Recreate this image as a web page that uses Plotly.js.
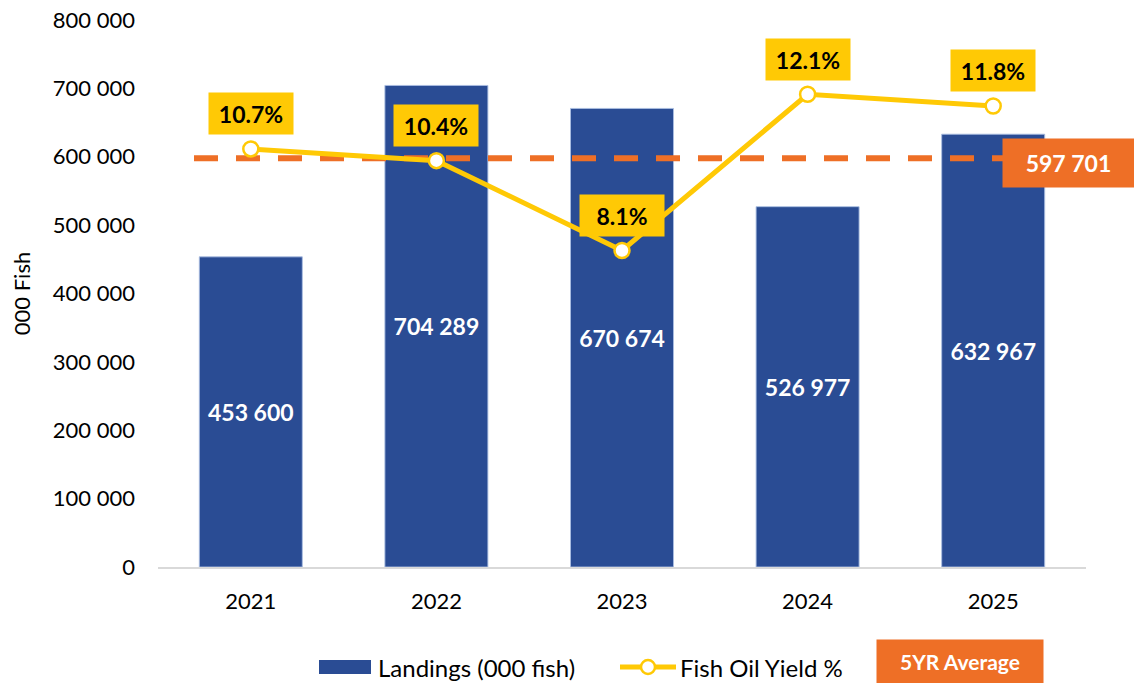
<!DOCTYPE html>
<html>
<head>
<meta charset="utf-8">
<script src="https://cdn.plot.ly/plotly-3.0.1.min.js"></script>
<style>html,body{margin:0;padding:0;background:#fff;}#chart{width:1134px;height:683px;}</style>
</head>
<body>
<div id="chart"></div>
<script>
// ---- data ----
const years = ['2021', '2022', '2023', '2024', '2025'];
const landings = [453600, 704289, 670674, 526977, 632967];
const oilYield = [10.7, 10.4, 8.1, 12.1, 11.8];
const fiveYrAvg = 597701;
const seriesNames = ['Landings (000 fish)', 'Fish Oil Yield %', '5YR Average'];

// ---- style ----
const W = 1134, H = 683;
const M = {l: 158, r: 48, t: 20, b: 116};
const PW = W - M.l - M.r, PH = H - M.t - M.b;
const px2x = p => (p - M.l) / PW;
const px2y = p => (H - M.b - p) / PH;
const BLUE = '#2A4C94', YEL = '#FFC905', ORG = '#EE6F26';
const FONT = "Lato, 'Open Sans', sans-serif";

const idx = years.map((_, i) => i);
const xr = [-0.5, years.length - 0.5];
const fracToX = f => xr[0] + f * (xr[1] - xr[0]);
const fmtSpace = v => String(Math.round(v)).replace(/\B(?=(\d{3})+(?!\d))/g, ' ');

const traces = [
  {
    type: 'bar', x: idx, y: landings, name: seriesNames[0],
    width: 0.555,
    marker: {color: BLUE, line: {color: 'rgba(170,190,225,0.9)', width: 1}},
    texttemplate: '%{y:,d}', textposition: 'inside', insidetextanchor: 'middle',
    textfont: {color: '#ffffff', size: 23, family: FONT, weight: 'bold'},
    hoverinfo: 'skip', showlegend: false
  },
  {
    type: 'scatter', mode: 'lines', name: seriesNames[2],
    x: [fracToX(px2x(194)), fracToX(px2x(1003))], y: [fiveYrAvg, fiveYrAvg],
    line: {color: ORG, width: 6, dash: '24px,18px'},
    hoverinfo: 'skip', showlegend: false
  },
  {
    type: 'scatter', mode: 'lines+markers', name: seriesNames[1],
    x: idx, y: oilYield, yaxis: 'y2',
    line: {color: YEL, width: 5},
    marker: {size: 15, color: '#ffffff', line: {color: YEL, width: 2.5}},
    hoverinfo: 'skip', showlegend: false
  }
];

const annotations = oilYield.map((v, i) => ({
  x: idx[i], y: v, xref: 'x', yref: 'y2', yshift: 35, xanchor: 'center', yanchor: 'middle',
  text: v.toFixed(1) + '%', showarrow: false,
  bgcolor: YEL, width: 84, height: 41, borderpad: 0,
  font: {family: FONT, size: 23, color: '#000', weight: 'bold'}
}));

annotations.push({
  xref: 'paper', yref: 'y', x: px2x(1068.5), y: fiveYrAvg, yshift: -5,
  xanchor: 'center', yanchor: 'middle',
  text: fmtSpace(fiveYrAvg), showarrow: false,
  bgcolor: ORG, width: 131, height: 48, borderpad: 0,
  font: {family: FONT, size: 23, color: '#fff', weight: 'bold'}
});

// manual legend
annotations.push({
  xref: 'paper', yref: 'paper', x: px2x(376), y: px2y(667), xanchor: 'left', yanchor: 'middle',
  text: seriesNames[0], showarrow: false, font: {family: FONT, size: 24, color: '#000'}
});
annotations.push({
  xref: 'paper', yref: 'paper', x: px2x(678), y: px2y(667), xanchor: 'left', yanchor: 'middle',
  text: seriesNames[1], showarrow: false, font: {family: FONT, size: 24, color: '#000'}
});
annotations.push({
  xref: 'paper', yref: 'paper', x: px2x(960), y: px2y(661.5), xanchor: 'center', yanchor: 'middle',
  text: seriesNames[2], showarrow: false, bgcolor: ORG, width: 166, height: 43, borderpad: 0,
  font: {family: FONT, size: 21, color: '#fff', weight: 'bold'}
});

const shapes = [
  {type: 'rect', xref: 'paper', yref: 'paper', x0: px2x(319), x1: px2x(371), y0: px2y(674), y1: px2y(660),
   fillcolor: BLUE, line: {width: 0}},
  {type: 'line', xref: 'paper', yref: 'paper', x0: px2x(620), x1: px2x(676), y0: px2y(667), y1: px2y(667),
   line: {color: YEL, width: 5}},
  {type: 'circle', xref: 'paper', yref: 'paper', x0: px2x(641), x1: px2x(655), y0: px2y(674), y1: px2y(660),
   fillcolor: '#fff', line: {color: YEL, width: 2.5}}
];

const layout = {
  width: W, height: H, margin: M,
  paper_bgcolor: '#fff', plot_bgcolor: '#fff',
  separators: '. ',
  font: {family: FONT, color: '#000', size: 22},
  showlegend: false,
  xaxis: {
    range: xr, tickvals: idx, ticktext: years, showgrid: false, zeroline: false,
    showline: true, linecolor: '#d9d9d9', linewidth: 2, ticks: '',
    ticklabelstandoff: 14, tickfont: {size: 22, family: FONT, color: '#000'}, fixedrange: true
  },
  yaxis: {
    range: [0, 800000], dtick: 100000, tickformat: ',d', showgrid: false, zeroline: false,
    showline: false, ticks: '', ticklabelstandoff: 22,
    tickfont: {size: 22, family: FONT, color: '#000'},
    title: {text: '000 Fish', font: {size: 22, family: FONT, color: '#000'}, standoff: 16}
  },
  yaxis2: {overlaying: 'y', range: [0, 14], visible: false, showgrid: false, zeroline: false},
  annotations: annotations,
  shapes: shapes
};

Plotly.newPlot('chart', traces, layout, {displayModeBar: false, staticPlot: true});
</script>
</body>
</html>
